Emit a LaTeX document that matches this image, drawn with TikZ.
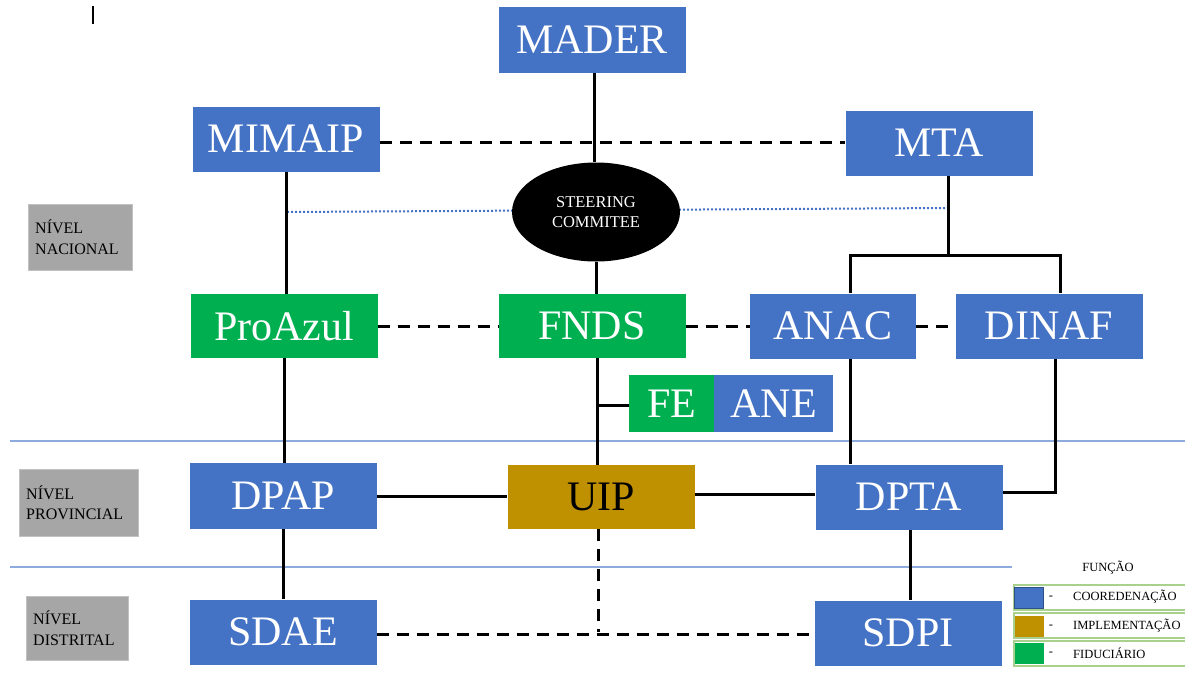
\documentclass[tikz,border=0pt]{standalone}
\usepackage{fontspec}
\setmainfont{Liberation Serif}
\usetikzlibrary{shapes.geometric}
\definecolor{cblue}{HTML}{4472C4}
\definecolor{cgreen}{HTML}{00B050}
\definecolor{cgold}{HTML}{BF9000}
\definecolor{cgray}{HTML}{A6A6A6}
\definecolor{lblue}{HTML}{8FAADC}
\definecolor{lgreen}{HTML}{A9D18E}
\tikzset{
  box/.style={minimum width=187pt, minimum height=65pt, inner sep=0pt, text=white,
    font=\fontsize{42}{42}\selectfont},
  cbox/.style={box, fill=cblue},
  gbox/.style={box, fill=cgreen},
  ybox/.style={box, fill=cgold, text=black},
  lvl/.style={fill=cgray, draw=cgray!70!white, inner xsep=7pt, inner ysep=0pt, align=left,
    font=\fontsize{16}{20.5}\selectfont, anchor=north west},
  conn/.style={line width=3pt},
  dconn/.style={line width=3pt, dash pattern=on 12pt off 8pt},
  legrow/.style={draw=lgreen, line width=1.5pt, minimum width=175pt, minimum height=25pt, inner sep=0pt, anchor=north west},
  legsq/.style={minimum width=29pt, minimum height=21pt, inner sep=0pt, anchor=north west},
  legtxt/.style={font=\fontsize{12.5}{12.5}\selectfont, inner sep=0pt}
}
\begin{document}
\begin{tikzpicture}[x=1pt,y=-1pt]
\useasboundingbox (0,0) rectangle (1185,675);
\fill[white] (0,0) rectangle (1185,675);

% cursor artifact
\draw[line width=1.5pt] (93,6) -- (93,24);

% level separators
\coordinate (s1a) at (10,441); \coordinate (s1b) at (1185,441);
\coordinate (s2a) at (10,567); \coordinate (s2b) at (1012,567);
\draw[lblue, line width=1.5pt] (s1a) -- (s1b);
\draw[lblue, line width=1.5pt] (s2a) -- (s2b);

% level labels
\node[lvl, minimum width=104pt, minimum height=66pt, text width=90pt] (ln) at (28,204) {NÍVEL\\NACIONAL};
\node[lvl, minimum width=119pt, minimum height=67pt, text width=105pt] (lp) at (19,469) {NÍVEL\\PROVINCIAL};
\node[lvl, minimum width=102pt, minimum height=64pt, text width=88pt] (ld) at (26,596) {NÍVEL\\DISTRITAL};

% boxes
\node[cbox, minimum height=66pt] (mader) at (592,40) {MADER};
\node[cbox] (mimaip) at (286,139) {MIMAIP};
\node[cbox] (mta) at (939,143) {MTA};
\node[gbox, minimum height=64pt] (proazul) at (284,326) {ProAzul};
\node[gbox, minimum height=64pt] (fnds) at (592,326) {FNDS};
\node[cbox, minimum width=166pt] (anac) at (833,326) {ANAC};
\node[cbox] (dinaf) at (1049,326) {DINAF};
\node[gbox, minimum width=85pt, minimum height=57pt] (fe) at (671.5,403.5) {FE};
\node[cbox, minimum width=119pt, minimum height=57pt] (ane) at (773.5,403.5) {ANE};
\node[ybox, minimum height=64pt] (uip) at (601,497) {UIP};
\node[cbox, minimum height=66pt] (dpap) at (283,496) {DPAP};
\node[cbox] (dpta) at (909,497) {DPTA};
\node[cbox] (sdae) at (283,632) {SDAE};
\node[cbox] (sdpi) at (908,633) {SDPI};

% dotted link behind steering committee
\coordinate (dl) at (287,212);
\coordinate (dr) at (948,208);
\draw[cblue, line width=2pt, dotted] (dl) -- (dr);

% steering committee
\node[ellipse, fill=black, minimum width=168pt, minimum height=99pt, inner sep=0pt,
  text=white, align=center, font=\fontsize{16.5}{19.5}\selectfont] (steer) at (596,212) {STEERING\\COMMITEE};

% connectors
\draw[conn] ([xshift=2pt]mader.south) -- ([xshift=-2pt]steer.north);
\draw[dconn] (mimaip.east |- 0,142) -- (mta.west |- 0,142);
\draw[conn] (mimaip.south) -- (proazul.north -| mimaip.south);
\draw[conn] (steer.south) -- (fnds.north -| steer.south);
\coordinate (br) at (948,255);
\draw[conn] (mta.south -| br) -- (br);
\draw[conn] ([xshift=17pt]anac.north) |- (br) -| ([xshift=11pt]dinaf.north);
\draw[dconn] (proazul.east) -- (fnds.west);
\draw[dconn] (fnds.east) -- (anac.west);
\draw[dconn] (anac.east) -- (dinaf.west);
\draw[conn] ([xshift=5pt]fnds.south) -- ([xshift=-4pt]uip.north);
\coordinate (fj) at (597,405);
\draw[conn] (fj) -- (fe.west |- fj);
\draw[conn] ([xshift=17pt]anac.south) -- (dpta.north -| 850,0);
\coordinate (dj) at (1055,492);
\draw[conn] ([xshift=6pt]dinaf.south) -- (dj) -- (dpta.east |- dj);
\draw[conn] (proazul.south) -- (dpap.north -| proazul.south);
\draw[conn] (dpap.east) -- (uip.west |- dpap.east);
\draw[conn] (uip.east |- 0,494) -- (dpta.west |- 0,494);
\draw[conn] (dpap.south) -- (sdae.north);
\draw[conn] ([xshift=1pt]dpta.south) -- ([xshift=2pt]sdpi.north);
\coordinate (uj) at (598,632);
\draw[dconn] ([xshift=-3pt]uip.south) -- (uj);
\draw[dconn] (sdae.east |- 0,634) -- (sdpi.west |- 0,634);

% legend
\node[legtxt] (fun) at (1108,568) {FUNÇÃO};
\node[legrow] (r1) at (1013,584) {};
\node[legrow] (r2) at (1013,612) {};
\node[legrow] (r3) at (1013,640) {};
\node[legsq, fill=cblue, draw=cblue!70!black] (q1) at (1014,587) {};
\node[legsq, fill=cgold] (q2) at (1015,616) {};
\node[legsq, fill=cgreen] (q3) at (1015,643) {};
\node[legtxt] (d1) at (1051,598) {-};
\node[legtxt] (d2) at (1051,627) {-};
\node[legtxt] (d3) at (1051,654) {-};
\node[legtxt, anchor=west] (t1) at (1073,597) {COOREDENAÇÃO};
\node[legtxt, anchor=west] (t2) at (1073,626) {IMPLEMENTAÇÃO};
\node[legtxt, anchor=west] (t3) at (1073,653) {FIDUCIÁRIO};
\end{tikzpicture}
\end{document}
